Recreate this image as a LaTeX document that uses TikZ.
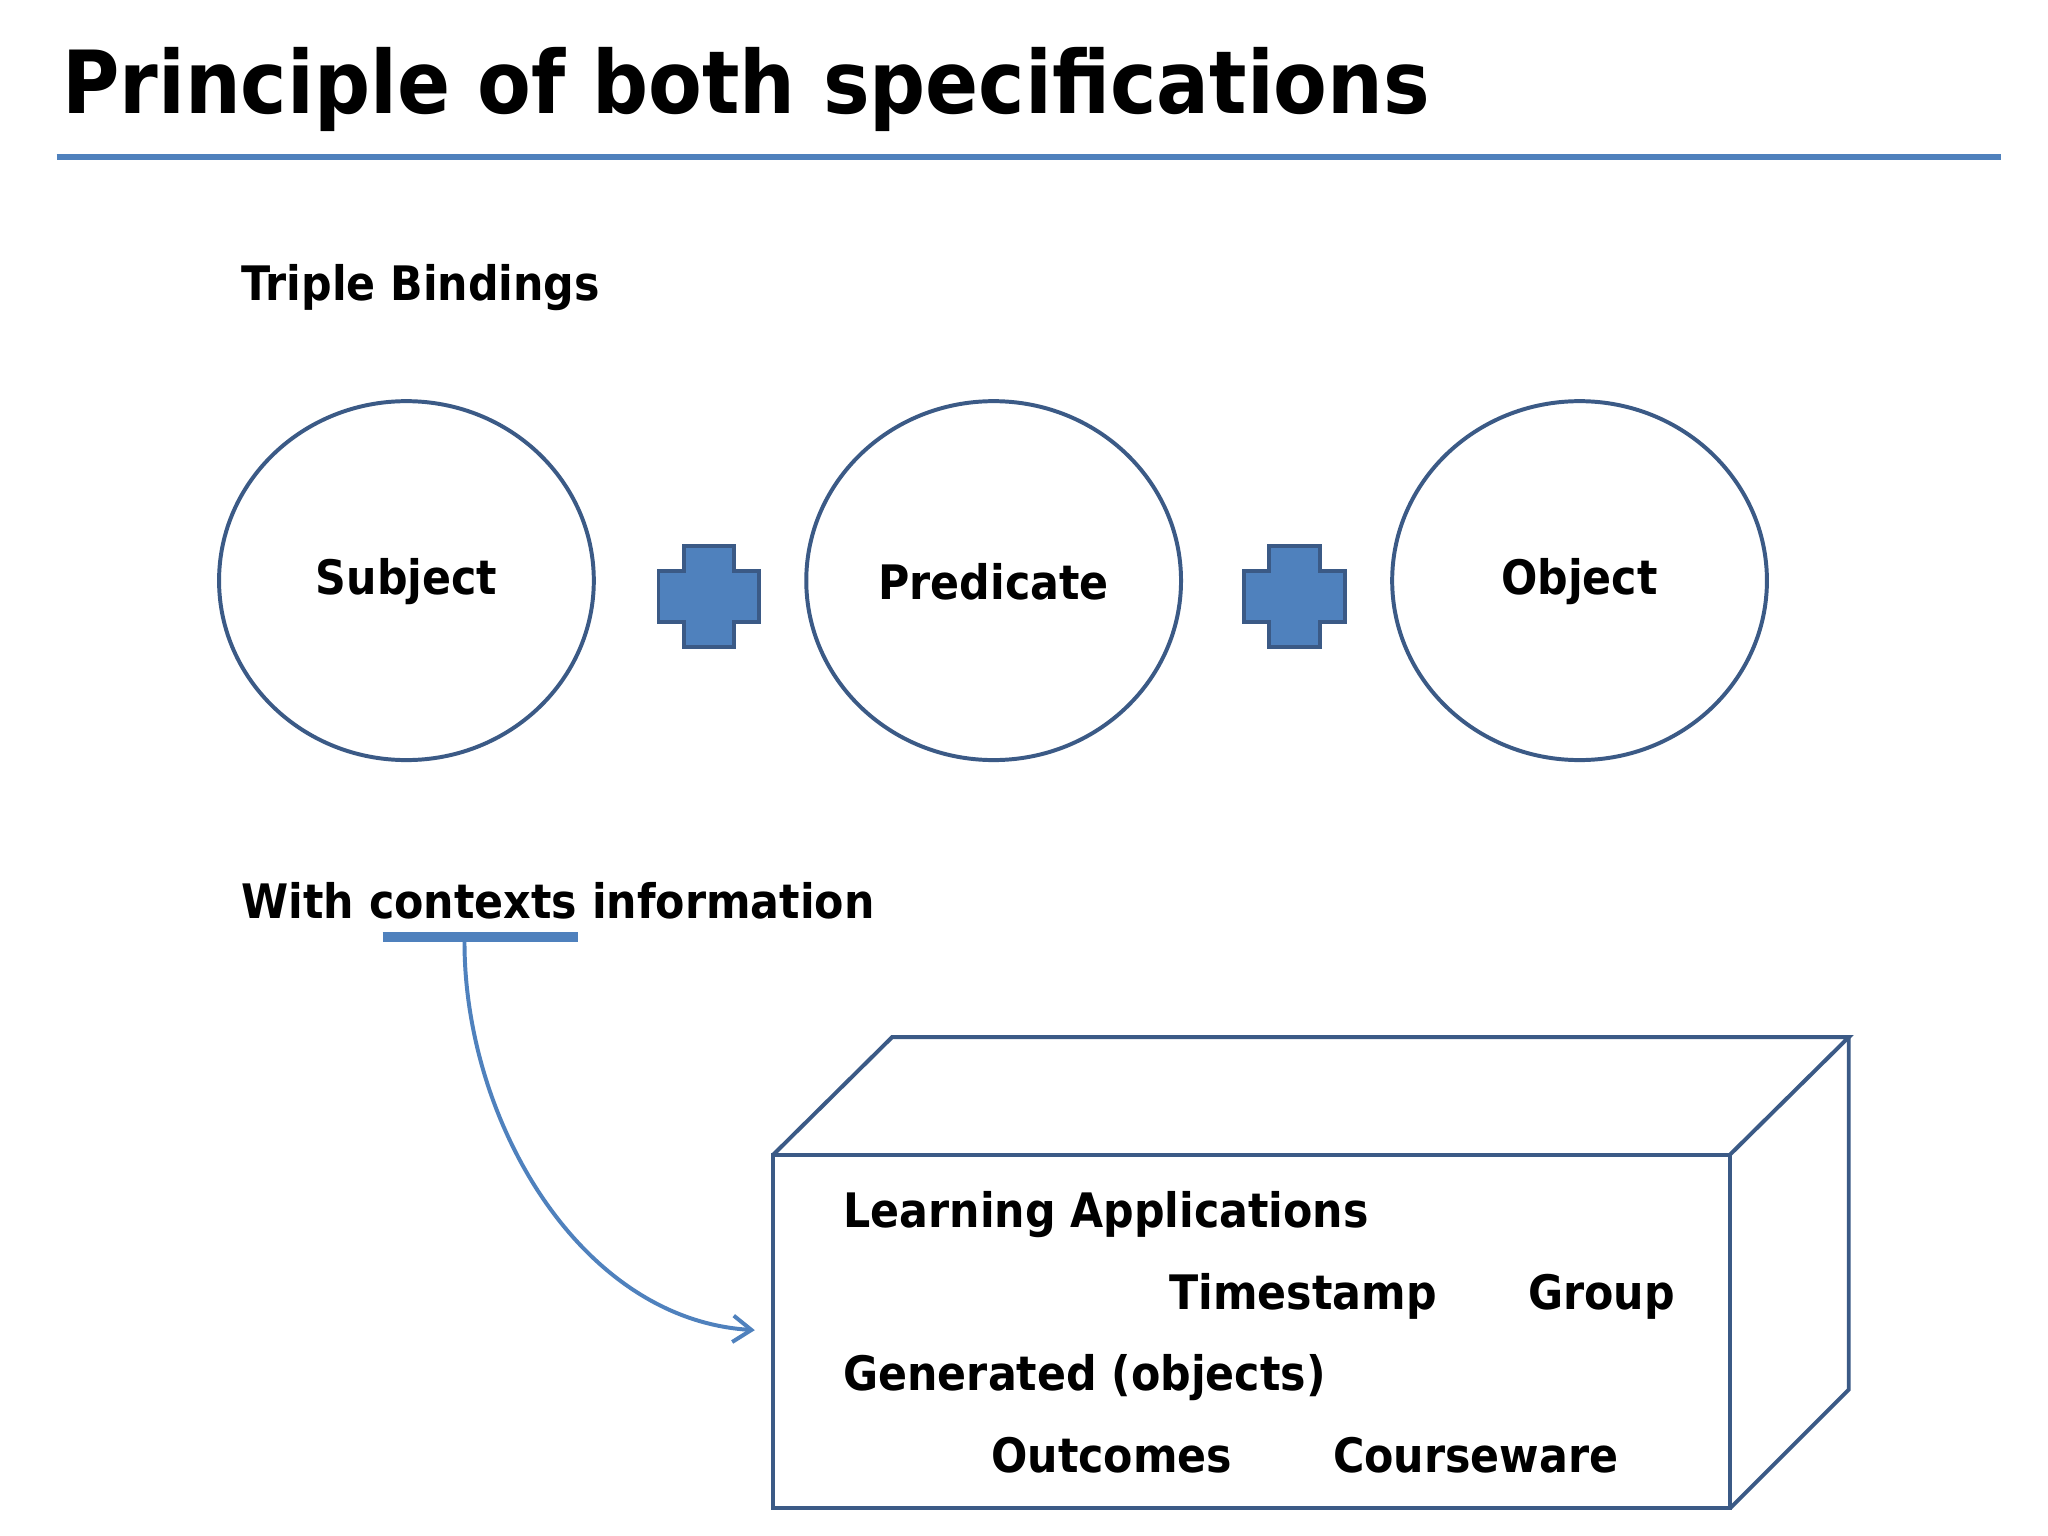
\documentclass[tikz,border=0pt]{standalone}
\usepackage{fontspec}
\setmainfont{DejaVu Sans Condensed}
\usetikzlibrary{arrows.meta}
\definecolor{dk}{HTML}{3B5A86}
\definecolor{lb}{HTML}{4F81BD}
\tikzset{
 ell/.style={draw=dk,line width=3pt},
 lbl/.style={font=\bfseries\fontsize{36}{40}\selectfont,inner sep=0pt},
 crs/.style={draw=dk,fill=lb,line width=3pt},
}
\begin{document}
\begin{tikzpicture}[x=1pt,y=-1pt]
\useasboundingbox[fill=white] (0,0) rectangle (1552,1164);
\node[anchor=base west,inner sep=0pt,font=\bfseries\fontsize{66}{70}\selectfont] (title) at (47,86) {Principle of both specifications};
\draw[lb,line width=4pt] (43,119) -- (1516,119);
\node[lbl,anchor=base west] (tb) at (183,228) {Triple Bindings};
\draw[ell] (308,440) ellipse [x radius=142,y radius=136];
\draw[ell] (753,440) ellipse [x radius=142,y radius=136];
\draw[ell] (1197,440) ellipse [x radius=142,y radius=136];
\node[lbl] (s) at (308,441) {Subject};
\node[lbl] (p) at (753,441) {Predicate};
\node[lbl] (o) at (1197,441) {Object};
\foreach \cx in {537,981}{
 \draw[crs] (\cx-19,414) -- (\cx+19,414) -- (\cx+19,433) -- (\cx+38,433) -- (\cx+38,471) -- (\cx+19,471) -- (\cx+19,490) -- (\cx-19,490) -- (\cx-19,471) -- (\cx-38,471) -- (\cx-38,433) -- (\cx-19,433) -- cycle;
}
\node[lbl,anchor=base west] (ctx) at (183,696) {With contexts information};
\draw[lb,line width=8pt] (290,710) -- (438,710);
\coordinate (cs) at (352,714);
\coordinate (ce) at (572,1008);
\draw[lb,line width=3pt,-{Straight Barb[length=14pt,width=20pt]}] (cs) .. controls (352,850) and (440,1000) .. (ce);
\draw[ell,line join=miter] (586,875) rectangle (1311,1143);
\draw[ell,line join=miter] (586,875) -- (676,786) -- (1401,786) -- (1311,875);
\draw[ell,line join=miter] (1401,786) -- (1401,1053) -- (1311,1143);
\node[lbl,anchor=base west] (la) at (639,930) {Learning Applications};
\node[lbl,anchor=base west] (ts) at (886,992) {Timestamp};
\node[lbl,anchor=base west] (gr) at (1158,992) {Group};
\node[lbl,anchor=base west] (ge) at (639,1054) {Generated (objects)};
\node[lbl,anchor=base west] (ou) at (751,1116) {Outcomes};
\node[lbl,anchor=base west] (cw) at (1010,1116) {Courseware};
\end{tikzpicture}
\end{document}
